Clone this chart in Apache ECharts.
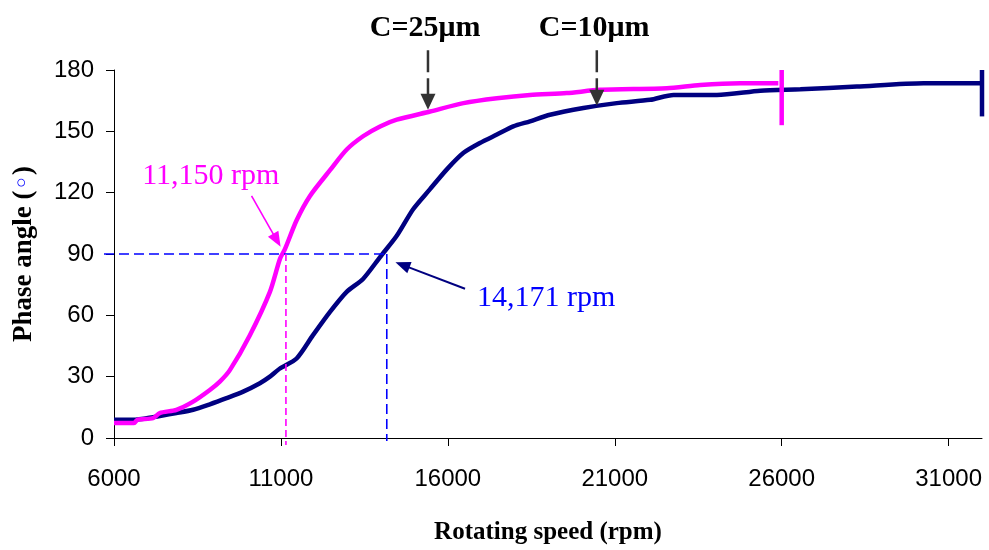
<!DOCTYPE html>
<html>
<head>
<meta charset="utf-8">
<script src="https://cdn.jsdelivr.net/npm/echarts@6/dist/echarts.min.js"></script>
<style>html,body{margin:0;padding:0;background:#fff;}#c{width:989px;height:550px;}</style>
</head>
<body>
<div id="c"></div>
<script>
// ---- data ----
const xTicks = [6000, 11000, 16000, 21000, 26000, 31000];
const yTicks = [0, 30, 60, 90, 120, 150, 180];

// C = 25 um (magenta); last two points are the vertical spike at the end
const c25X = [6000,6600,6700,7170,7370,7870,8370,8870,9170,9470,10070,10670,10970,11120,11470,11870,12470,12970,13460,13970,14470,15470,16470,17470,18460,19560,20560,22560,23560,24760,25900,26000,26000];
const c25Y = [7.3,7.3,8.9,9.7,12.2,13.8,17.8,23.5,27.6,33.2,50.3,71.5,87.6,92.4,106.5,118.4,131,141.1,147.6,152.4,155.7,159.7,163.8,166.2,167.8,168.7,170.3,171.1,172.7,173.5,173.5,180,153];

// C = 10 um (navy); last two points are the vertical spike at the end
const c10X = [6000,6570,7170,7870,8370,8870,9370,9870,10370,10670,10970,11470,11960,12470,12970,13460,13970,14470,14960,15460,15970,16470,16960,17470,17960,18460,19060,20060,21060,22060,22760,24060,25360,26560,28250,30250,31950,32000,32000];
const c10Y = [8.9,8.9,10.2,12.2,13.8,16.5,19.5,22.7,26.8,30,34,38.9,50.3,61.7,71.5,77.8,88.5,98.9,111.9,121.6,131.4,139.5,144.3,148.4,152.4,154.9,158.1,161.4,163.8,165.4,167.8,167.8,169.9,170.6,171.9,173.5,173.5,180,157.3];

// annotation values (data coordinates)
const rpm25 = 11150, rpm10 = 14171, phase90 = 90;
const refLineXStart = 5700, refLineYEnd25 = -3.4, refLineYEnd10 = -1.5;
const label25 = '11,150 rpm', label10 = '14,171 rpm';
const label25Pos = [8900, 128], label10Pos = [18942, 68.5];
const arrow25 = [[10120, 118.4], [10990, 93.5]];
const arrow10 = [[16515, 73], [14430, 86]];
const cLabels = ['C=25\u03bcm', 'C=10\u03bcm'];
const cLabelPos = [[15320, 200.5], [20381, 200.5]];
const cArrows = [[[15405, 189.7], [15405, 160.5]], [[20462, 189.7], [20462, 162.5]]];

// ---- chart ----
const zip = (xs, ys) => xs.map((x, i) => [x, ys[i]]);
const chart = echarts.init(document.getElementById('c'), null, {renderer: 'canvas'});
const serif = "'Liberation Serif','Times New Roman',serif";
const sans = "'Liberation Sans',Arial,sans-serif";

const c25 = zip(c25X, c25Y), c10 = zip(c10X, c10Y);

chart.setOption({
  animation: false,
  backgroundColor: '#fff',
  grid: {left: 114, right: 7, top: 70, bottom: 110, containLabel: false},
  xAxis: {
    type: 'value', min: 6000, max: 32000,
    name: 'Rotating speed (rpm)', nameLocation: 'middle', nameGap: 82,
    nameTextStyle: {fontFamily: serif, fontWeight: 'bold', fontSize: 25, color: '#000'},
    axisLine: {show: true, lineStyle: {color: '#000', width: 1}},
    axisTick: {show: true, length: 8, lineStyle: {color: '#000'}, customValues: xTicks},
    axisLabel: {color: '#000', fontFamily: sans, fontSize: 24, margin: 29, customValues: xTicks,
      formatter: v => String(v)},
    splitLine: {show: false}
  },
  yAxis: {
    type: 'value', min: 0, max: 180, interval: 30,
    name: 'Phase angle ({c|\u25e6})', nameLocation: 'middle', nameGap: 76, nameRotate: 90,
    nameTextStyle: {fontFamily: serif, fontWeight: 'bold', fontSize: 27, color: '#000',
      rich: {c: {color: '#0000ff', fontSize: 26, fontFamily: "'DejaVu Sans',sans-serif", fontWeight: 'normal'}}},
    axisLine: {show: true, lineStyle: {color: '#000', width: 1}},
    axisTick: {show: true, length: 8, lineStyle: {color: '#000'}},
    axisLabel: {color: '#000', fontFamily: sans, fontSize: 24, margin: 20, customValues: yTicks},
    splitLine: {show: false}
  },
  series: [
    {name: 'C=10um', type: 'line', data: c10.slice(0, -2), showSymbol: false, symbol: 'none',
      smooth: 0.25, clip: false, lineStyle: {color: '#000080', width: 4.5}, z: 2},
    {name: 'C=10um spike', type: 'line', data: c10.slice(-2), showSymbol: false, symbol: 'none',
      clip: false, lineStyle: {color: '#000080', width: 4.5}, z: 2},
    {name: 'C=25um', type: 'line', data: c25.slice(0, -2), showSymbol: false, symbol: 'none',
      smooth: 0.25, clip: false, lineStyle: {color: '#ff00ff', width: 4.5}, z: 3},
    {name: 'C=25um spike', type: 'line', data: c25.slice(-2), showSymbol: false, symbol: 'none',
      clip: false, lineStyle: {color: '#ff00ff', width: 4.5}, z: 3}
  ]
});

// ---- annotations placed through the axes' own scales ----
const px = p => chart.convertToPixel({gridIndex: 0}, p);
const g = [];
function dashLine(a, b, color, dash, w) {
  const p = px(a), q = px(b);
  g.push({type: 'line', z: 10, shape: {x1: p[0], y1: p[1], x2: q[0], y2: q[1]},
    style: {stroke: color, lineWidth: w, lineDash: dash}});
}
function arrow(a, b, color, w, dash, hl, hw) {
  const p = px(a), q = px(b);
  const dx = q[0] - p[0], dy = q[1] - p[1], L = Math.hypot(dx, dy);
  const ux = dx / L, uy = dy / L;
  const bx = q[0] - ux * hl, by = q[1] - uy * hl;
  g.push({type: 'line', z: 10, shape: {x1: p[0], y1: p[1], x2: bx + ux * 2, y2: by + uy * 2},
    style: {stroke: color, lineWidth: w, lineDash: dash || null}});
  g.push({type: 'polygon', z: 10, shape: {points: [[q[0], q[1]],
      [bx - uy * hw / 2, by + ux * hw / 2], [bx + uy * hw / 2, by - ux * hw / 2]]},
    style: {fill: color}});
}
function text(pos, str, color, bold) {
  const p = px(pos);
  g.push({type: 'text', z: 11, x: p[0], y: p[1], style: {text: str, fill: color,
    font: (bold ? 'bold ' : '') + '30px ' + serif, align: 'center', verticalAlign: 'middle'}});
}
dashLine([refLineXStart, phase90], [rpm10, phase90], '#0000ff', [10, 5], 1.6);
dashLine([rpm10, phase90], [rpm10, refLineYEnd10], '#0000ff', [10, 5], 1.6);
dashLine([rpm25, phase90], [rpm25, refLineYEnd25], '#ff00ff', [7, 4], 1.6);
arrow(arrow25[0], arrow25[1], '#ff00ff', 1.6, null, 15, 12);
arrow(arrow10[0], arrow10[1], '#000080', 2, null, 15, 12);
arrow(cArrows[0][0], cArrows[0][1], '#333333', 2.5, [22, 6], 16, 15);
arrow(cArrows[1][0], cArrows[1][1], '#333333', 2.5, [22, 6], 16, 15);
text(label25Pos, label25, '#ff00ff', false);
text(label10Pos, label10, '#0000ff', false);
text(cLabelPos[0], cLabels[0], '#000', true);
text(cLabelPos[1], cLabels[1], '#000', true);
chart.setOption({graphic: g});
</script>
</body>
</html>
